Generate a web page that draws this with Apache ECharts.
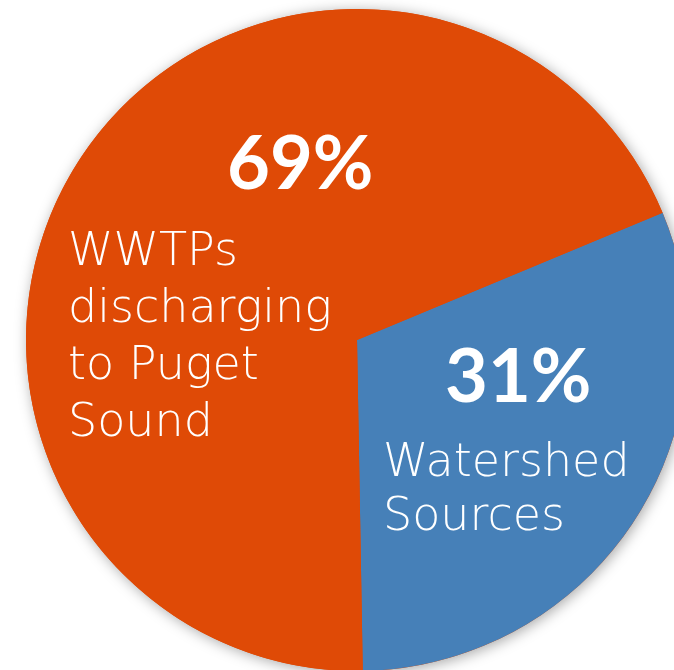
<!DOCTYPE html>
<html>
<head>
<meta charset="utf-8">
<style>
html,body{margin:0;padding:0;background:#fff;}
#chart{width:674px;height:670px;}
</style>
<script src="https://cdn.jsdelivr.net/npm/echarts@6/dist/echarts.min.js"></script>
</head>
<body>
<div id="chart"></div>
<script>
var categories = ['Watershed\nSources', 'WWTPs\ndischarging\nto Puget\nSound'];
var values = [31, 69];
var colors = ['#4680B8', '#DF4A06'];
var percentLabels = ['31%', '69%'];

var chart = echarts.init(document.getElementById('chart'));
var CX = 357, CY = 340, R = 331;
var FONT = 'Lato, "Open Sans", sans-serif';
var NAMEFONT = '"DejaVu Sans", sans-serif';

chart.setOption({
  animation: false,
  series: [
    {
      type: 'pie',
      silent: true,
      z: 1,
      center: [CX, CY],
      radius: [0, R],
      label: {show: false},
      labelLine: {show: false},
      itemStyle: {
        color: '#DF4A06',
        shadowBlur: 14,
        shadowColor: 'rgba(0,0,0,0.35)',
        shadowOffsetX: 2,
        shadowOffsetY: 2
      },
      data: [{value: 1, name: 'bg'}]
    },
    {
      type: 'pie',
      z: 2,
      center: [CX, CY],
      radius: [0, R],
      startAngle: 22.6,
      clockwise: true,
      label: {show: false},
      labelLine: {show: false},
      itemStyle: {borderWidth: 0},
      data: categories.map(function (c, i) {
        return {value: values[i], name: c, itemStyle: {color: colors[i]}};
      })
    }
  ],
  graphic: [
    {type: 'text', z: 10, left: 227, top: 128,
      style: {text: percentLabels[1], fill: '#fff', font: 'bold 74px ' + FONT}},
    {type: 'text', z: 10, left: 68, top: 225,
      style: {text: categories[1], fill: '#fff', font: '200 46px ' + NAMEFONT, lineHeight: 57}},
    {type: 'text', z: 10, left: 445, top: 341,
      style: {text: percentLabels[0], fill: '#fff', font: 'bold 74px ' + FONT}},
    {type: 'text', z: 10, left: 383, top: 437,
      style: {text: categories[0], fill: '#fff', font: '200 46px ' + NAMEFONT, lineHeight: 54}}
  ]
});
</script>
</body>
</html>
